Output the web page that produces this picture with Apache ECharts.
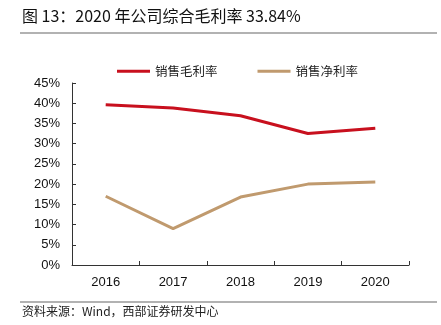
<!DOCTYPE html>
<html>
<head>
<meta charset="utf-8">
<script src="https://cdn.jsdelivr.net/npm/echarts@6/dist/echarts.min.js"></script>
<style>
html,body{margin:0;padding:0;background:#fff;}
#chart{width:441px;height:325px;}
</style>
</head>
<body>
<div id="chart"></div>
<script>
// Years and margin series (%)
const years = ['2016', '2017', '2018', '2019', '2020'];
const grossMargin = [39.6, 38.8, 36.9, 32.5, 33.84];
const netMargin = [17.0, 9.0, 16.8, 20.0, 20.5];
const seriesNames = ['销售毛利率', '销售净利率'];
const titleText = '图 13：2020 年公司综合毛利率 33.84%';
const sourceText = '资料来源：Wind，西部证券研发中心';

const chart = echarts.init(document.getElementById('chart'));
const cjk = '"Noto Sans CJK SC", "Liberation Sans", sans-serif';

chart.setOption({
  animation: false,
  backgroundColor: '#fff',
  graphic: [
    { type: 'text', left: 22, top: 8,
      style: { text: titleText, font: '16px ' + cjk, fill: '#111' } },
    { type: 'line', shape: { x1: 20, y1: 33, x2: 437, y2: 33 },
      style: { stroke: '#999', lineWidth: 1.5 } },
    { type: 'line', shape: { x1: 20, y1: 302, x2: 437, y2: 302 },
      style: { stroke: '#999', lineWidth: 1.5 } },
    { type: 'text', left: 22, top: 305,
      style: { text: sourceText, font: '12px ' + cjk, fill: '#222' } }
  ],
  legend: {
    top: 60, left: 112,
    itemWidth: 33, itemHeight: 3, itemGap: 40,
    icon: 'rect',
    textStyle: { fontFamily: cjk, fontSize: 12.5, color: '#222' },
    data: seriesNames
  },
  grid: { left: 72, right: 32, top: 83, bottom: 60, containLabel: false },
  xAxis: {
    type: 'category', data: years, boundaryGap: true,
    axisLine: { lineStyle: { color: '#333', width: 1 } },
    axisTick: { show: true, length: 4, inside: true, lineStyle: { color: '#333' } },
    axisLabel: { fontFamily: 'Liberation Sans, Arial, sans-serif', fontSize: 13, color: '#111', margin: 11 }
  },
  yAxis: {
    type: 'value', min: 0, max: 45, interval: 5,
    axisLine: { show: true, lineStyle: { color: '#333', width: 1 } },
    axisTick: { show: true, length: 4, inside: true, lineStyle: { color: '#333' } },
    splitLine: { show: false },
    axisLabel: { formatter: '{value}%', fontFamily: 'Liberation Sans, Arial, sans-serif', fontSize: 13, color: '#111', margin: 12 }
  },
  series: [
    { name: seriesNames[0], type: 'line', data: grossMargin, symbol: 'none',
      lineStyle: { color: '#C8101E', width: 3 }, itemStyle: { color: '#C8101E' } },
    { name: seriesNames[1], type: 'line', data: netMargin, symbol: 'none',
      lineStyle: { color: '#C09A6E', width: 3 }, itemStyle: { color: '#C09A6E' } }
  ]
});
</script>
</body>
</html>
